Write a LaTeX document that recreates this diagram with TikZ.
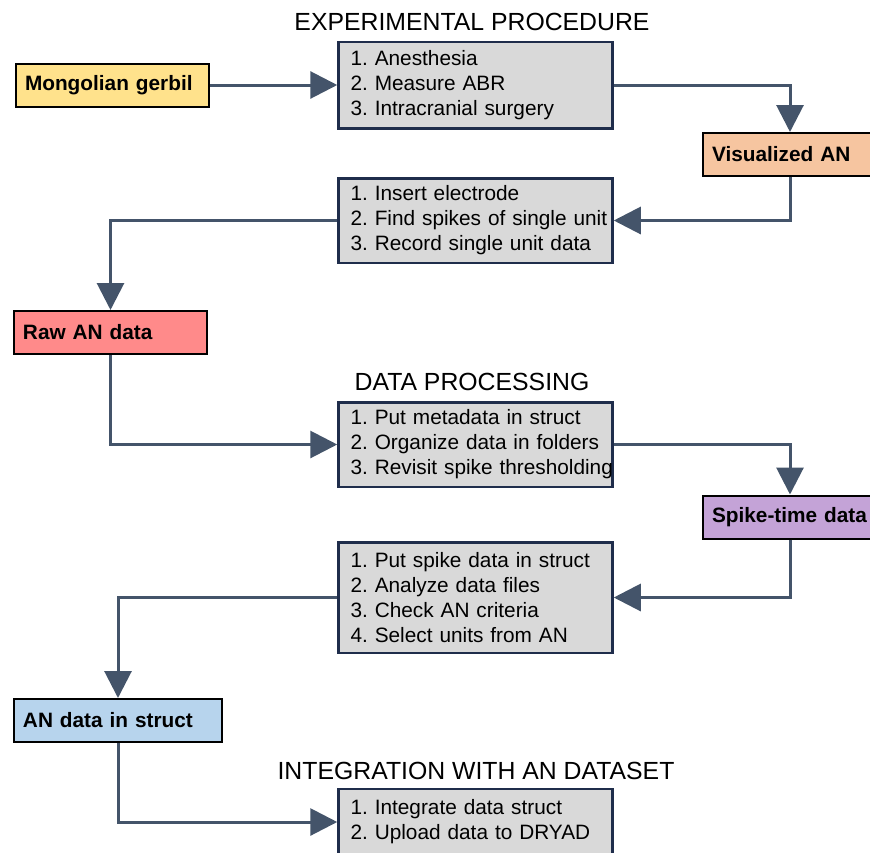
\documentclass[tikz,border=0pt]{standalone}
\usepackage{fontspec}
\setmainfont{Liberation Sans}
\usetikzlibrary{positioning, arrows.meta}

\definecolor{gerbilfill}{RGB}{255,226,140}
\definecolor{visfill}{RGB}{246,197,160}
\definecolor{rawfill}{RGB}{255,138,138}
\definecolor{spikefill}{RGB}{196,163,215}
\definecolor{structfill}{RGB}{183,212,237}
\definecolor{boxgray}{RGB}{217,217,217}
\definecolor{boxedge}{RGB}{31,45,75}
\definecolor{flowline}{RGB}{68,84,106}

\tikzset{
    stepitems/.style={draw=boxedge, line width=2.5pt, fill=boxgray, text width=250pt,
        inner xsep=12pt, inner ysep=0pt, align=left,
        font=\fontsize{20.8}{25}\selectfont\frenchspacing,
        execute at begin node={\rightskip=-16pt plus 1fil\relax}},
    databox/.style={draw=black, line width=2pt, inner xsep=9pt, inner ysep=0pt,
        minimum height=43pt, align=left, font=\bfseries\fontsize{20.8}{25}\selectfont},
    heading/.style={font=\fontsize{24.8}{28}\selectfont},
    flow/.style={draw=flowline, line width=3pt, -{Triangle[length=27pt,width=27pt]}}
}

\begin{document}
\begin{tikzpicture}[x=1pt, y=-1pt]
                \useasboundingbox (0,0) rectangle (870,852);
                \clip (0,0) rectangle (870,852);

                % experimental procedure
                \node[heading] (hexp) at (472, 22) {EXPERIMENTAL PROCEDURE};
                \node[databox, fill=gerbilfill, text width=175pt] (gerbil) at (112.5, 85) {Mongolian gerbil};
                \node[stepitems, minimum height=86.5pt] (surgery) at (475.5, 85)
                    {1. Anesthesia\\ 2. Measure ABR\\ 3. Intracranial surgery};
                \node[databox, fill=visfill, text width=156pt] (visan) at (790, 154.5) {Visualized AN};
                \node[stepitems, minimum height=84.5pt] (record) at (475.5, 220.5)
                    {1. Insert electrode\\ 2. Find spikes of single unit\\ 3. Record single unit data};
                \node[databox, fill=rawfill, text width=175pt] (rawan) at (110.5, 332.5) {Raw AN data};

                % data processing
                \node[heading] (hproc) at (472, 382) {DATA PROCESSING};
                \node[stepitems, minimum height=84.5pt] (organize) at (475.5, 444.5)
                    {1. Put metadata in struct\\ 2. Organize data in folders\\ 3. Revisit spike thresholding};
                \node[databox, fill=spikefill, text width=156pt] (spiket) at (790, 517) {Spike-time data};
                \node[stepitems, minimum height=110.5pt] (analyze) at (475.5, 597.5)
                    {1. Put spike data in struct\\ 2. Analyze data files\\ 3. Check AN criteria\\ 4. Select units from AN};
                \node[databox, fill=structfill, text width=190pt] (anstruct) at (118, 720.5) {AN data in struct};

                % integration
                \node[heading] (hint) at (476, 771) {INTEGRATION WITH AN DATASET};
                \node[stepitems, minimum height=66pt] (upload) at (475.5, 822)
                    {1. Integrate data struct\\ 2. Upload data to DRYAD};

                \draw[flow] (gerbil) -- (surgery);
                \draw[flow] (surgery.east) -| (visan.north);
                \draw[flow] (visan.south) |- (record.east);
                \draw[flow] (record.west) -| (rawan.north);
                \draw[flow] (rawan.south) |- (organize.west);
                \draw[flow] (organize.east) -| (spiket.north);
                \draw[flow] (spiket.south) |- (analyze.east);
                \draw[flow] (analyze.west) -| (anstruct.north);
                \draw[flow] (anstruct.south) |- (upload.west);
            \end{tikzpicture}
\end{document}
